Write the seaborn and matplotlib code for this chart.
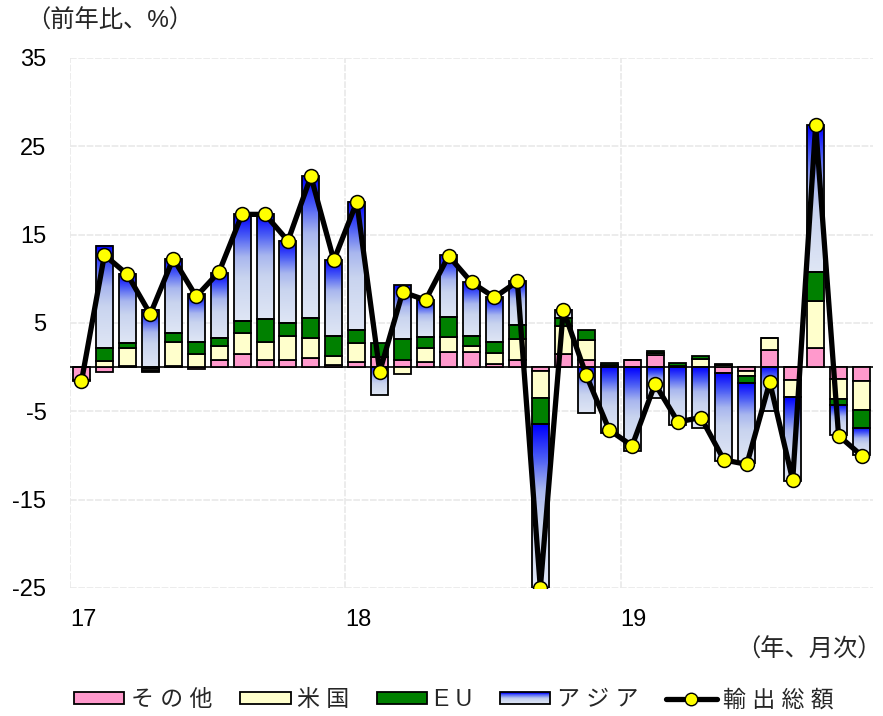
import numpy as np
import pandas as pd
import matplotlib
matplotlib.use("Agg")
import matplotlib.pyplot as plt
import seaborn as sns
from matplotlib.colors import LinearSegmentedColormap
from matplotlib.patches import Rectangle, Patch
from matplotlib.lines import Line2D
from matplotlib.legend_handler import HandlerBase

# --- datos: contribuciones al crecimiento interanual de exportaciones (ene-17 a nov-19) ---
meses = list(range(35))
otros = [-1.5, -0.6, 0.1, -0.2, 0.1, -0.2, 0.8, 1.5, 0.8, 0.8, 1.0, 0.2,
         0.55, 1.1, 0.85, 0.55, 1.75, 1.75, 0.4, 0.85, -0.4, 1.5, 0.85, 0.15,
         0.85, 1.4, 0.1, 0.0, -0.65, -0.45, 1.95, -1.5, 2.15, -1.3, -1.6]
eeuu = [0.0, 0.75, 2.1, -0.2, 2.8, 1.5, 1.6, 2.4, 2.1, 2.75, 2.3, 1.1,
        2.15, 0.0, -0.75, 1.6, 1.7, 0.7, 1.2, 2.3, -3.1, 3.2, 2.25, 0.1,
        0.0, 0.2, 0.05, 0.95, 0.2, -0.6, 1.3, -1.9, 5.35, -2.25, -3.3]
ue = [0.0, 1.4, 0.55, -0.1, 1.0, 1.4, 0.95, 1.3, 2.5, 1.4, 2.25, 2.25,
      1.5, 1.6, 2.35, 1.3, 2.2, 1.1, 1.3, 1.6, -2.95, 0.85, 1.15, 0.2,
      0.0, 0.2, 0.35, 0.3, 0.2, -0.7, 0.0, 0.0, 3.3, -0.7, -2.0]
asia = [-0.1, 11.55, 7.85, 6.5, 8.4, 5.4, 7.35, 12.1, 11.95, 9.35, 16.05, 8.55,
        14.5, -3.2, 6.1, 4.15, 7.0, 6.05, 5.0, 4.95, -18.55, 0.95, -5.2, -7.5,
        -9.5, -3.5, -6.6, -6.9, -10.0, -9.1, -5.0, -9.5, 16.6, -3.4, -3.1]
total = [-1.6, 12.7, 10.5, 6.0, 12.3, 8.0, 10.8, 17.3, 17.3, 14.3, 21.6, 12.1,
         18.7, -0.5, 8.5, 7.6, 12.6, 9.6, 7.9, 9.7, -25.0, 6.5, -0.9, -7.1,
         -8.9, -1.9, -6.2, -5.7, -10.5, -11.0, -1.7, -12.8, 27.4, -7.75, -10.0]

etiquetas_anio = ["17", "18", "19"]
nombres = ["そ の 他", "米 国", "E U", "ア ジ ア", "輸 出 総 額"]

df = pd.DataFrame({"mes": meses, "otros": otros, "eeuu": eeuu, "ue": ue,
                   "asia": asia, "total": total})

# --- estilo ---
sns.set_theme(style="white")
plt.rcParams["font.family"] = ["Liberation Sans", "Noto Sans CJK JP"]
plt.rcParams["axes.unicode_minus"] = False

# degradado azul de la serie Asia (azul arriba, claro abajo)
cmap_azul = LinearSegmentedColormap.from_list(
    "azul", [(0.0, "#dfe6f5"), (0.4, "#c9d4ef"), (0.6, "#a9b7ee"),
             (0.8, "#4a5cf5"), (1.0, "#0000ff")])
grad = np.linspace(1, 0, 64).reshape(-1, 1)

fig = plt.figure(figsize=(8.83, 7.16), dpi=100)
ax = fig.add_axes([70 / 883, 128 / 716, 803 / 883, 530 / 716])

ancho = 0.74
series = [("otros", "#ff99cc"), ("eeuu", "#ffffcc"), ("ue", "#008000"), ("asia", None)]
base_pos = np.zeros(len(df))
base_neg = np.zeros(len(df))
for col, color in series:
    vals = df[col].to_numpy()
    fondo = np.where(vals >= 0, base_pos, base_neg)
    if color is None:
        # rellenar cada barra con el degradado
        for x, b, v in zip(df["mes"], fondo, vals):
            if v == 0:
                continue
            ax.imshow(grad, cmap=cmap_azul, vmin=0, vmax=1, aspect="auto",
                      extent=[x - ancho / 2, x + ancho / 2, min(b, b + v), max(b, b + v)],
                      zorder=2, interpolation="bilinear")
        ax.bar(df["mes"], vals, bottom=fondo, width=ancho, facecolor="none",
               edgecolor="black", linewidth=1.3, zorder=2.2)
    else:
        ax.bar(df["mes"], vals, bottom=fondo, width=ancho, color=color,
               edgecolor="black", linewidth=1.3, zorder=2.2)
    base_pos = np.where(vals >= 0, base_pos + vals, base_pos)
    base_neg = np.where(vals < 0, base_neg + vals, base_neg)

ax.axhline(0, color="black", linewidth=1.2, zorder=1.8)

sns.lineplot(data=df, x="mes", y="total", ax=ax, color="black", linewidth=3.8,
             marker="o", markersize=10, markerfacecolor="#ffff00",
             markeredgecolor="black", markeredgewidth=1.1, zorder=4)

# --- ejes ---
ax.set_xlim(-0.5, 34.5)
ax.set_ylim(-25, 35)
ax.set_yticks([-25, -15, -5, 5, 15, 25, 35])
ax.set_xticks([-0.5, 11.5, 23.5])
ax.set_xticklabels(etiquetas_anio)
for lbl in ax.get_xticklabels():
    lbl.set_horizontalalignment("left")
ax.tick_params(axis="both", length=0, labelsize=17, colors="black")
ax.tick_params(axis="y", pad=17)
ax.tick_params(axis="x", pad=15)
ax.grid(True, color="#e9e9e9", linestyle=(0, (4, 1)), linewidth=1.2, zorder=0)
ax.set_axisbelow(True)
for s in ax.spines.values():
    s.set_visible(False)
ax.set_xlabel("")
ax.set_ylabel("")

fig.text(26 / 883, 1 - 21 / 716, "（前年比、%）", fontsize=17.5, ha="left", va="center")
fig.text(882 / 883, 1 - 650 / 716, "（年、月次）", fontsize=17.5, ha="right", va="center")


# --- leyenda con recuadro en degradado ---
class HandlerDegradado(HandlerBase):
    def create_artists(self, legend, orig_handle, xdescent, ydescent, width, height, fontsize, trans):
        n = 16
        arts = []
        for i in range(n):
            arts.append(Rectangle((-xdescent, -ydescent + height * i / n), width, height / n,
                                  facecolor=cmap_azul(i / (n - 1)), edgecolor="none",
                                  transform=trans))
        arts.append(Rectangle((-xdescent, -ydescent), width, height, facecolor="none",
                              edgecolor="black", linewidth=1.3, transform=trans))
        return arts


h_otros = Patch(facecolor="#ff99cc", edgecolor="black", linewidth=1.3)
h_eeuu = Patch(facecolor="#ffffcc", edgecolor="black", linewidth=1.3)
h_ue = Patch(facecolor="#008000", edgecolor="black", linewidth=1.3)
h_asia = Patch(facecolor="#c8d4f0")
h_total = Line2D([], [], color="black", linewidth=3.8, marker="o", markersize=9,
                 markerfacecolor="#ffff00", markeredgecolor="black")
fig.legend([h_otros, h_eeuu, h_ue, h_asia, h_total], nombres,
           handler_map={h_asia: HandlerDegradado()},
           loc="center", bbox_to_anchor=(454 / 883, 1 - 700 / 716), ncol=5,
           frameon=False, fontsize=16.5, handlelength=2.2, handleheight=0.45,
           handletextpad=0.3, columnspacing=1.2)

fig.savefig("out.png", dpi=100)
